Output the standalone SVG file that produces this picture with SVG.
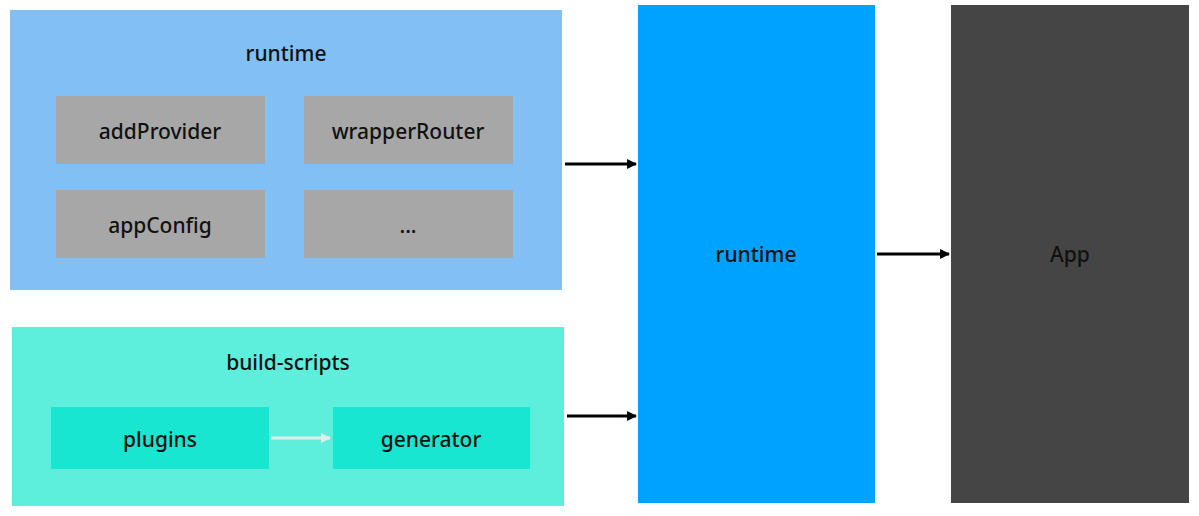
<svg xmlns="http://www.w3.org/2000/svg" width="1199" height="516" viewBox="0 0 1199 516">
<defs>
<style>
text{font-family:"Noto Sans","Liberation Sans",sans-serif;font-size:21px;font-weight:500;fill:#111;text-anchor:middle}
.conn{stroke:#000;stroke-width:3;fill:none}
.inner{stroke:#e4ecea;stroke-width:3;fill:none}
.gray{fill:#a7a7a7}
.teal{fill:#19e6d0}
</style>
<marker id="ah" viewBox="0 0 10 10" refX="9" refY="5" markerWidth="3.3" markerHeight="3.3" orient="auto" markerUnits="strokeWidth"><path d="M0,0 L10,5 L0,10 z" fill="#000"/></marker>
<marker id="ahl" viewBox="0 0 10 10" refX="9" refY="5" markerWidth="3.3" markerHeight="3.3" orient="auto" markerUnits="strokeWidth"><path d="M0,0 L10,5 L0,10 z" fill="#e4ecea"/></marker>
</defs>
<rect width="1199" height="516" fill="#fff"/>
<g id="runtime-group">
<rect x="10" y="10" width="552" height="280" fill="#82bff5"/>
<text x="286" y="61">runtime</text>
</g>
<g id="addProvider"><rect class="gray" x="56" y="96" width="209" height="68"/><text x="160" y="139">addProvider</text></g>
<g id="wrapperRouter"><rect class="gray" x="304" y="96" width="209" height="68"/><text x="408" y="139">wrapperRouter</text></g>
<g id="appConfig"><rect class="gray" x="56" y="190" width="209" height="68"/><text x="160" y="233">appConfig</text></g>
<g id="more"><rect class="gray" x="304" y="190" width="209" height="68"/><text x="408" y="233">...</text></g>
<g id="build-scripts">
<rect x="12" y="327" width="552" height="179" fill="#5eeedc"/>
<text x="288" y="370">build-scripts</text>
</g>
<g id="plugins"><rect class="teal" x="51" y="407" width="218" height="62"/><text x="160" y="447">plugins</text></g>
<g id="generator"><rect class="teal" x="333" y="407" width="197" height="62"/><text x="431" y="447">generator</text></g>
<g id="runtime"><rect x="638" y="5" width="237" height="498" fill="#00a2ff"/><text x="756" y="262">runtime</text></g>
<g id="app"><rect x="951" y="5" width="238" height="498" fill="#454545"/><text x="1070" y="262">App</text></g>
<g id="connectors">
<line class="inner" x1="271" y1="438" x2="330" y2="438" marker-end="url(#ahl)"/>
<line class="conn" x1="565" y1="164" x2="636" y2="164" marker-end="url(#ah)"/>
<line class="conn" x1="567" y1="416" x2="636" y2="416" marker-end="url(#ah)"/>
<line class="conn" x1="877" y1="254" x2="949" y2="254" marker-end="url(#ah)"/>
</g>
</svg>
